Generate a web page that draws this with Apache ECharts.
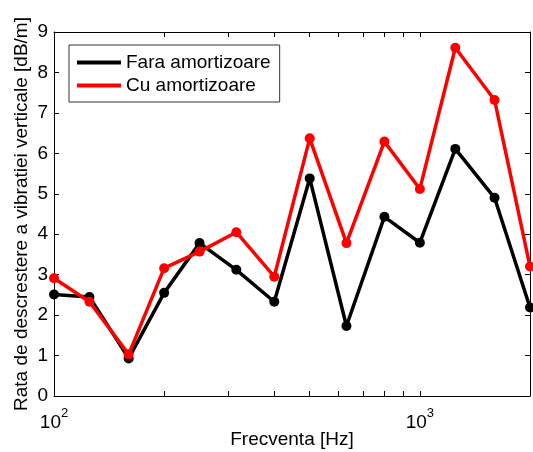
<!DOCTYPE html>
<html lang="ro">
<head>
    <meta charset="UTF-8">
    <title>Rata de descrestere a vibratiei verticale</title>
    <script src="https://cdn.jsdelivr.net/npm/echarts@6/dist/echarts.min.js"></script>
    <style>
        body {
            margin: 0;
            background-color: #ffffff;
        }
        #chart {
            width: 533px;
            height: 452px;
        }
    </style>
</head>
<body>
<div id="chart"></div>

<script>
    // frecvente in treimi de octava [Hz]
    const frequencies = [100, 125, 160, 200, 250, 315, 400, 500, 630, 800, 1000, 1250, 1600, 2000];
    const faraAmortizoare = [2.51, 2.45, 0.93, 2.55, 3.78, 3.12, 2.33, 5.38, 1.73, 4.43, 3.79, 6.11, 4.90, 2.19];
    const cuAmortizoare = [2.91, 2.33, 1.03, 3.16, 3.57, 4.05, 2.95, 6.37, 3.78, 6.29, 5.12, 8.61, 7.32, 3.20];
    const xTickValues = [100, 200, 300, 400, 500, 600, 700, 800, 900, 1000, 2000];
    const xLabelValues = [100, 1000];

    const fontFamily = "'Liberation Sans', Arial, sans-serif";

    const chart = echarts.init(document.getElementById('chart'));

    const pairs = arr => frequencies.map((f, i) => [f, arr[i]]);

    const boxAxisLine = { show: true, onZero: false, lineStyle: { color: '#000', width: 1 } };
    const tickStyle = { show: true, inside: true, length: 5, lineStyle: { color: '#000' } };

    const option = {
        animation: false,
        backgroundColor: '#fff',
        grid: { left: 54, right: 3, top: 32, bottom: 56, outerBoundsMode: 'none' },
        legend: {
            orient: 'vertical',
            left: 69,
            top: 45,
            padding: [8, 9, 7, 8],
            itemGap: 4,
            itemWidth: 44,
            itemHeight: 4,
            borderColor: '#333',
            borderWidth: 1,
            backgroundColor: '#fff',
            icon: 'rect',
            textStyle: { fontFamily, fontSize: 19, color: '#000' },
            data: ['Fara amortizoare', 'Cu amortizoare']
        },
        xAxis: [
            {
                type: 'log',
                logBase: 10,
                min: 100,
                max: 2000,
                name: 'Frecventa [Hz]',
                nameLocation: 'middle',
                nameGap: 34,
                nameMoveOverlap: false,
                nameTextStyle: { fontFamily, fontSize: 19, color: '#000' },
                axisLine: boxAxisLine,
                axisTick: Object.assign({ customValues: xTickValues }, tickStyle),
                splitLine: { show: false },
                axisLabel: {
                    customValues: xLabelValues,
                    margin: 11,
                    formatter: v => '{b|10}{s|' + Math.round(Math.log10(v)) + '}',
                    rich: {
                        b: { fontFamily, fontSize: 19, color: '#000', verticalAlign: 'bottom' },
                        s: { fontFamily, fontSize: 13, color: '#000', verticalAlign: 'top', padding: [0, 0, 12, 0] }
                    }
                }
            },
            {
                type: 'log',
                logBase: 10,
                min: 100,
                max: 2000,
                position: 'top',
                axisLine: boxAxisLine,
                axisTick: Object.assign({ customValues: xTickValues }, tickStyle),
                axisLabel: { show: false },
                splitLine: { show: false }
            }
        ],
        yAxis: [
            {
                type: 'value',
                min: 0,
                max: 9,
                interval: 1,
                name: 'Rata de descrestere a vibratiei verticale [dB/m]',
                nameLocation: 'middle',
                nameGap: 23,
                nameMoveOverlap: false,
                nameTextStyle: { fontFamily, fontSize: 19, color: '#000' },
                axisLine: boxAxisLine,
                axisTick: tickStyle,
                splitLine: { show: false },
                axisLabel: { fontFamily, fontSize: 19, color: '#000', margin: 6 }
            },
            {
                type: 'value',
                min: 0,
                max: 9,
                interval: 1,
                position: 'right',
                axisLine: boxAxisLine,
                axisTick: tickStyle,
                splitLine: { show: false },
                axisLabel: { show: false }
            }
        ],
        series: [
            {
                name: 'Fara amortizoare',
                type: 'line',
                data: pairs(faraAmortizoare),
                symbol: 'circle',
                symbolSize: 10,
                lineStyle: { color: '#000', width: 3.5 },
                itemStyle: { color: '#000' },
                z: 2
            },
            {
                name: 'Cu amortizoare',
                type: 'line',
                data: pairs(cuAmortizoare),
                symbol: 'circle',
                symbolSize: 10,
                lineStyle: { color: '#ff0000', width: 3.5 },
                itemStyle: { color: '#ff0000' },
                z: 3
            }
        ]
    };

    chart.setOption(option);
</script>
</body>
</html>
